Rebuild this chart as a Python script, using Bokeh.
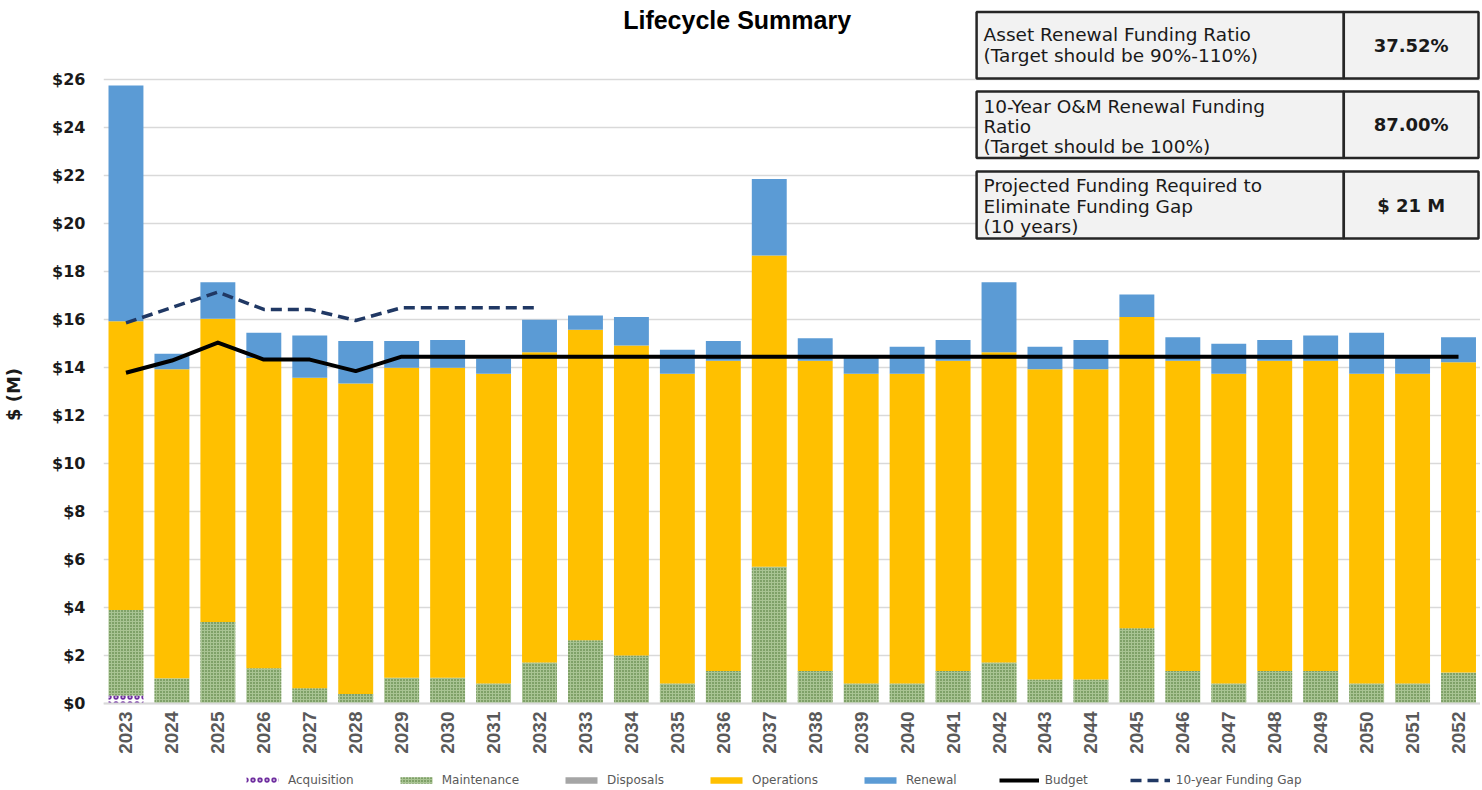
import math
from bokeh.plotting import figure
from bokeh.models import (ColumnDataSource, Range1d, FixedTicker, PrintfTickFormatter,
                          Legend, LegendItem, Label, Span)
from bokeh.transform import stack
from bokeh.core.properties import value
from bokeh.embed import file_html
from bokeh.resources import INLINE

# ---------------- data (values in $M) ----------------
years = [2023, 2024, 2025, 2026, 2027, 2028, 2029, 2030, 2031, 2032,
         2033, 2034, 2035, 2036, 2037, 2038, 2039, 2040, 2041, 2042,
         2043, 2044, 2045, 2046, 2047, 2048, 2049, 2050, 2051, 2052]
year_labels = [str(y) for y in years]

acquisition = [0.33, 0, 0, 0, 0, 0, 0, 0, 0, 0,
               0, 0, 0, 0, 0, 0, 0, 0, 0, 0,
               0, 0, 0, 0, 0, 0, 0, 0, 0, 0]

maintenance = [3.57, 1.05, 3.40, 1.47, 0.64, 0.40, 1.07, 1.07, 0.83, 1.71,
               2.64, 2.00, 0.83, 1.35, 5.70, 1.35, 0.83, 0.83, 1.35, 1.71,
               1.00, 1.00, 3.14, 1.35, 0.83, 1.35, 1.35, 0.83, 0.83, 1.29]

disposals = [0, 0, 0, 0, 0, 0, 0, 0, 0, 0,
             0, 0, 0, 0, 0, 0, 0, 0, 0, 0,
             0, 0, 0, 0, 0, 0, 0, 0, 0, 0]

operations = [12.03, 12.88, 12.63, 12.93, 12.93, 12.93, 12.92, 12.92, 12.91, 12.93,
              12.93, 12.92, 12.91, 12.93, 12.97, 12.93, 12.91, 12.91, 12.93, 12.93,
              12.93, 12.93, 12.96, 12.93, 12.91, 12.93, 12.93, 12.91, 12.91, 12.93]

renewal = [9.82, 0.64, 1.52, 1.05, 1.76, 1.77, 1.11, 1.16, 0.62, 1.35,
           0.60, 1.18, 1.00, 0.82, 3.18, 0.94, 0.66, 1.12, 0.87, 2.91,
           0.93, 1.22, 0.94, 0.98, 1.25, 0.87, 1.05, 1.71, 0.66, 1.04]

budget = [13.78, 14.29, 15.04, 14.33, 14.33, 13.85, 14.45, 14.45, 14.45, 14.45,
          14.45, 14.45, 14.45, 14.45, 14.45, 14.45, 14.45, 14.45, 14.45, 14.45,
          14.45, 14.45, 14.45, 14.45, 14.45, 14.45, 14.45, 14.45, 14.45, 14.45]

gap_years = [2023, 2024, 2025, 2026, 2027, 2028, 2029, 2030, 2031, 2032]
funding_gap = [15.86, 16.50, 17.14, 16.42, 16.42, 15.96, 16.49, 16.49, 16.49, 16.49]

y_ticks = [0, 2, 4, 6, 8, 10, 12, 14, 16, 18, 20, 22, 24, 26]

legend_labels = ["Acquisition", "Maintenance", "Disposals", "Operations",
                 "Renewal", "Budget", "10-year Funding Gap"]

title_text = "Lifecycle Summary"
y_title = "$ (M)"

table_rows = [
    (["Asset Renewal Funding Ratio", "(Target should be 90%-110%)"], "37.52%"),
    (["10-Year O&M Renewal Funding", "Ratio", "(Target should be 100%)"], "87.00%"),
    (["Projected Funding Required to", "Eliminate Funding Gap", "(10 years)"], "$ 21 M"),
]

# ---------------- layout helpers (canvas px -> data) ----------------
W, H = 1480, 788
FL = 100                      # frame left (px)
X0, XS = 2022.511, 46.05      # data x at frame left, px per year
Y0, Y_PX = 703.0, 24.0        # px row of $0, px per $1M


def dx(px):
    return X0 + (px - FL) / XS


def dy(py):
    return (Y0 - py) / Y_PX


src = ColumnDataSource(dict(year=years, label=year_labels, acq=acquisition,
                            maint=maintenance, disp=disposals, ops=operations,
                            ren=renewal, budget=budget))
gap_src = ColumnDataSource(dict(year=gap_years, gap=funding_gap))

p = figure(width=W, height=H, output_backend="svg", toolbar_location=None,
           x_range=Range1d(X0, dx(W)), y_range=Range1d(dy(H), dy(0)),
           x_axis_location=None,
           min_border_left=FL, min_border_right=0, min_border_top=0,
           min_border_bottom=0)
p.outline_line_color = None
p.background_fill_color = "white"
p.ygrid.grid_line_color = "#d9d9d9"
p.ygrid.grid_line_width = 1.5
p.ygrid.ticker = FixedTicker(ticks=y_ticks)
for g in p.xgrid:
    g.grid_line_color = None

# y axis
p.yaxis.ticker = FixedTicker(ticks=y_ticks)
p.yaxis.formatter = PrintfTickFormatter(format="$%d")
p.yaxis.axis_line_color = None
p.yaxis.major_tick_line_color = None
p.yaxis.minor_tick_line_color = None
p.yaxis.major_tick_out = 0
p.yaxis.major_tick_in = 0
p.yaxis.major_label_standoff = 18
p.yaxis.major_label_text_font = "DejaVu Sans"
p.yaxis.major_label_text_font_style = "bold"
p.yaxis.major_label_text_font_size = "16px"
p.yaxis.major_label_text_color = "#1a1a1a"
p.yaxis.axis_label = y_title
p.yaxis.axis_label_text_font = "DejaVu Sans"
p.yaxis.axis_label_text_font_style = "bold"
p.yaxis.axis_label_text_font_size = "18px"
p.yaxis.axis_label_text_color = "#1a1a1a"
p.yaxis.axis_label_standoff = 25

# baseline ($0 axis line)
p.add_layout(Span(location=0, dimension="width", line_color="#d9d9d9", line_width=2))

BW = 0.76
r_acq = p.vbar(x="year", width=BW, bottom=0, top=stack("acq"), source=src,
               fill_color="white", line_color=None, hatch_pattern="ring",
               hatch_color="#7030a0", hatch_scale=7, hatch_weight=1.8)
r_maint = p.vbar(x="year", width=BW, bottom=stack("acq"), top=stack("acq", "maint"),
                 source=src, fill_color="#a9c493", line_color=None,
                 hatch_pattern="dot", hatch_color="#3f6b27", hatch_scale=3,
                 hatch_weight=1.4)
r_disp = p.vbar(x="year", width=BW, bottom=stack("acq", "maint"),
                top=stack("acq", "maint", "disp"), source=src,
                fill_color="#a5a5a5", line_color=None)
r_ops = p.vbar(x="year", width=BW, bottom=stack("acq", "maint", "disp"),
               top=stack("acq", "maint", "disp", "ops"), source=src,
               fill_color="#ffc000", line_color=None)
r_ren = p.vbar(x="year", width=BW, bottom=stack("acq", "maint", "disp", "ops"),
               top=stack("acq", "maint", "disp", "ops", "ren"), source=src,
               fill_color="#5b9bd5", line_color=None)

r_budget = p.line(x="year", y="budget", source=src, line_color="black",
                  line_width=4, line_join="round")
r_gap = p.line(x="year", y="gap", source=gap_src, line_color="#203864",
               line_width=3.5, line_dash="11 6", line_join="round")

# year tick labels (vertical, reading upward, hanging below $0)
p.text(x="year", y=0, text="label", source=src, angle=math.pi / 2,
       text_align="right", text_baseline="middle", y_offset=8,
       text_font=value("Liberation Sans"), text_font_style="bold",
       text_font_size="19px", text_color="#595959")

# title
p.add_layout(Label(x=dx(735), y=dy(19), text=title_text, text_font="Liberation Sans",
                   text_font_style="bold", text_font_size="25px",
                   text_color="black", text_align="center", text_baseline="middle"))

# summary table (top-right)
box_rows = [(11.5, 78.0), (91.0, 157.5), (171.0, 238.0)]
line_pos = [[33.5, 55.0], [106.0, 126.0, 146.0], [185.0, 205.5, 226.0]]
L, M, R = 975, 1343, 1478
p.quad(left=[dx(L)] * 3, right=[dx(M)] * 3,
       top=[dy(a) for a, b in box_rows], bottom=[dy(b) for a, b in box_rows],
       fill_color="#f2f2f2", line_color="#262626", line_width=2.5)
p.quad(left=[dx(M)] * 3, right=[dx(R)] * 3,
       top=[dy(a) for a, b in box_rows], bottom=[dy(b) for a, b in box_rows],
       fill_color="#f2f2f2", line_color="#262626", line_width=2.5)
for (lines, val), (a, b), ys in zip(table_rows, box_rows, line_pos):
    for t, yy in zip(lines, ys):
        p.add_layout(Label(x=dx(982), y=dy(yy), text=t, text_font="DejaVu Sans",
                           text_font_size="18.5px", text_color="#1a1a1a",
                           text_align="left", text_baseline="middle"))
    p.add_layout(Label(x=dx((M + R) / 2), y=dy((a + b) / 2), text=val,
                       text_font="DejaVu Sans", text_font_style="bold",
                       text_font_size="18px", text_color="#1a1a1a",
                       text_align="center", text_baseline="middle"))

# legend (inside the frame, at its bottom)
renderers = [r_acq, r_maint, r_disp, r_ops, r_ren, r_budget, r_gap]
legend = Legend(items=[LegendItem(label=lab, renderers=[r])
                       for lab, r in zip(legend_labels, renderers)],
                orientation="horizontal", location=(139, 1),
                glyph_width=40, glyph_height=8, label_standoff=6, spacing=42,
                padding=2, margin=0, border_line_color=None,
                background_fill_alpha=0,
                label_text_font="DejaVu Sans", label_text_font_size="12px",
                label_text_color="#595959")
p.add_layout(legend, "center")

open("out.html", "w").write(file_html(p, INLINE))
